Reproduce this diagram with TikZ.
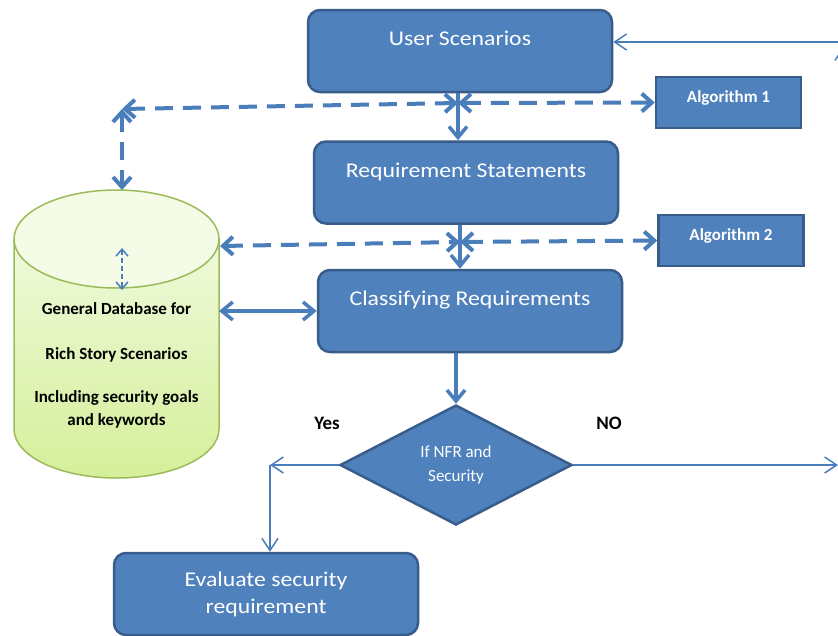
\documentclass[tikz,border=0pt]{standalone}
\usepackage{fontspec}
\setmainfont{Carlito}
\newfontfamily\widefont[FakeStretch=1.13]{Carlito}
\usepackage{tikz}
\usetikzlibrary{calc,shapes.geometric,arrows.meta}
\definecolor{boxblue}{HTML}{4F81BD}
\definecolor{boxline}{HTML}{385D8A}
\definecolor{linkblue}{HTML}{4A7EBB}
\definecolor{dbtopcol}{HTML}{F4FCE8}
\definecolor{dbbotcol}{HTML}{D5EF9A}
\definecolor{dbline}{HTML}{9BBB59}
\tikzstyle{bluebox}=[rectangle,rounded corners=12pt,draw=boxline,line width=2.5pt,
                     fill=boxblue,text=white,inner sep=0pt,
                     font=\widefont\fontsize{21}{30}\selectfont,
                     minimum width=304pt,minimum height=82pt]
\tikzstyle{topline}=[text height=15pt,text depth=26pt]
\tikzstyle{algobox}=[rectangle,draw=boxline,line width=2.5pt,fill=boxblue,text=white,
                     inner sep=0pt,font=\fontsize{17}{20}\selectfont\bfseries,
                     minimum width=145pt,minimum height=51pt,text height=11pt,text depth=11pt]
\tikzstyle{decision}=[diamond,aspect=2,draw=boxline,line width=2.5pt,fill=boxblue,
                      text=white,inner sep=0pt,align=center,
                      font=\fontsize{17}{24}\selectfont,
                      minimum width=232pt,minimum height=120pt]
\tikzstyle{flowarrow}=[draw=linkblue,line width=3.5pt,-{Straight Barb[length=11pt,width=18pt]}]
\tikzstyle{bothflow}=[draw=linkblue,line width=3.5pt,
                      {Straight Barb[length=11pt,width=18pt]}-{Straight Barb[length=11pt,width=18pt]}]
\tikzstyle{dasharrow}=[draw=linkblue,line width=4pt,dash pattern=on 18pt off 10pt,
                       {Straight Barb[length=10pt,width=18pt]}-{Straight Barb[length=10pt,width=18pt]}]
\tikzstyle{thinarrow}=[draw=linkblue,line width=1.5pt,-{Straight Barb[length=12pt,width=16pt]}]
\tikzstyle{answer}=[font=\fontsize{19}{22}\selectfont\bfseries,inner sep=0pt]
\newcommand\dbrx{102.5}
\newcommand\dbry{49}

\begin{document}
\begin{tikzpicture}[x=1pt,y=1pt]
    \useasboundingbox (0,0) rectangle (838,-635);

    % database cylinder
    \shade[top color=dbtopcol,bottom color=dbbotcol]
        (14,-239) -- (14,-429) arc[start angle=180,end angle=360,x radius=\dbrx,y radius=\dbry]
        -- (219,-239) arc[start angle=0,end angle=180,x radius=\dbrx,y radius=\dbry] -- cycle;
    \draw[dbline,line width=1.5pt]
        (14,-239) -- (14,-429) arc[start angle=180,end angle=360,x radius=\dbrx,y radius=\dbry]
        -- (219,-239);
    \draw[dbline,line width=1.5pt,fill=dbtopcol] (116.5,-239) ellipse[x radius=\dbrx,y radius=\dbry];
    \node [align=center,anchor=north,inner sep=0pt,font=\fontsize{17}{23}\selectfont\bfseries]
        (dbtext) at (116.5,-302) {General Database for\\[22pt]
        Rich Story Scenarios\\[20pt]
        Including security goals\\and keywords};
    \coordinate (dbtop) at (122,-190);
    \coordinate (dbedge) at (220,-246);
    \coordinate (dbside) at (219,-311);
    \coordinate (dbinup) at (122,-248);
    \coordinate (dbindown) at (122,-290);

    % process boxes
    \node [bluebox,topline] (users) at (460,-51) {User Scenarios};
    \node [bluebox,topline] (reqs) at (466,-182.5) {Requirement Statements};
    \node [bluebox,topline] (classify) at (470,-311) {Classifying Requirements};
    \node [algobox] (algo1) at (728.5,-102.5) {Algorithm 1};
    \node [algobox] (algo2) at (731,-240.5) {Algorithm 2};
    \node [decision] (nfr) at (456,-465) {If NFR and\\Security};
    \node [bluebox,align=center] (evaluate) at (266,-594) {\raisebox{-3pt}{Evaluate security}\\requirement};
    \node [answer] (yes) at (327,-423) {Yes};
    \node [answer] (no) at (609,-423) {NO};

    % junctions and corners
    \coordinate (junc1) at (458,-103);
    \coordinate (junc2) at (460,-242);
    \coordinate (dbcorner) at (122,-109);
    \coordinate (yescorner) at (270,-465);
    \coordinate (noend) at (838,-465);
    \coordinate (nocorner) at (843,-465);
    \coordinate (noup) at (843,-47);
    \coordinate (backstart) at (840,-42);

    % main flow
    \draw [flowarrow] (users.south -| junc1) -- (reqs.north -| junc1);
    \draw [flowarrow] (reqs.south -| junc2) -- (classify.north -| junc2);
    \draw [flowarrow] (classify.south -| nfr.north) -- (nfr.north);
    \draw [bothflow] (dbside) -- (classify.west |- dbside);

    % dashed links
    \draw [dasharrow] (dbcorner) -- (junc1);
    \draw [dasharrow] (junc1) -- (algo1.west);
    \draw [dasharrow] (dbcorner) -- (dbtop);
    \draw [dasharrow] (dbedge) -- (junc2);
    \draw [dasharrow] (junc2) -- (algo2.west);
    \draw [draw=linkblue,line width=1.5pt,dash pattern=on 5pt off 3pt,
           {Straight Barb[length=7pt,width=12pt]}-{Straight Barb[length=7pt,width=12pt]}]
           (dbinup) -- (dbindown);

    % decision branches
    \draw [thinarrow] (nfr.west) -- (yescorner);
    \draw [thinarrow] (yescorner) -- (evaluate.north -| yescorner);
    \draw [thinarrow] (nfr.east) -- (noend);
    \draw [thinarrow] (nocorner) -- (noup);
    \draw [thinarrow] (backstart) -- (users.east |- backstart);
\end{tikzpicture}
\end{document}
